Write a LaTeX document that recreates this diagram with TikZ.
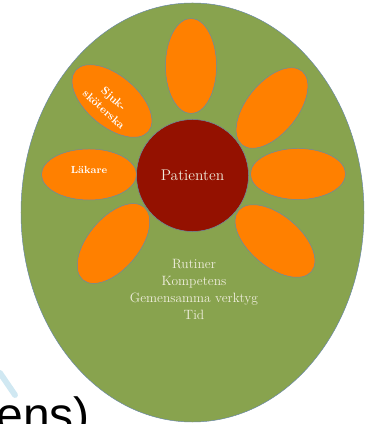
\documentclass[tikz,border=0pt]{standalone}
\usepackage{fontspec}
\newfontfamily\bgsans{Liberation Sans}
\usetikzlibrary{shapes.geometric}
\usetikzlibrary{positioning}
\definecolor{fieldgreen}{RGB}{136,163,78}
\definecolor{petalorange}{RGB}{255,128,0}
\definecolor{coredarkred}{RGB}{148,17,0}
\definecolor{rimblue}{RGB}{105,135,170}
\definecolor{creamtext}{RGB}{240,238,222}
\definecolor{swooshblue}{RGB}{208,232,242}

\begin{document}
\begin{tikzpicture}[x=0.03cm,y=0.03cm,
  petal/.style={ellipse,draw=rimblue,thin,fill=petalorange,minimum width=2.85cm,minimum height=1.53cm,inner sep=0pt},
  rolelabel/.style={font=\bfseries\fontsize{8.8}{10}\selectfont,text=white,align=center}]
\useasboundingbox (0,0) rectangle (366,424);
\clip (0,0) rectangle (366,424);

% background fragments
\draw[swooshblue,line width=5pt,line cap=round] (0,51) -- (15,29);
\node[font=\bgsans\fontsize{41}{41}\selectfont,anchor=base east,inner sep=0pt] (bgword) at (90,-7) {ens)};

% field, core and petals
\node[ellipse,draw=rimblue,thin,fill=fieldgreen,minimum width=10.29cm,minimum height=12.57cm,inner sep=0pt] (field) at (192.5,211.5) {};
\node[circle,draw=rimblue,thin,fill=coredarkred,minimum size=3.36cm,inner sep=0pt,text=creamtext,font=\fontsize{13.2}{15}\selectfont] (patient) at (192.5,248.5) {Patienten};

\node[petal,rotate=90] (ptop) at (191,358) {};
\node[petal,rotate=51] (pupright) at (272,316) {};
\node[petal] (pright) at (298,250) {};
\node[petal,rotate=-40] (plowright) at (275,183) {};
\node[petal,rotate=50] (plowleft) at (113.5,180.5) {};
\node[petal] (doctor) at (89,249.5) {};
\node[petal,rotate=-40] (nurse) at (112,323) {};

\node[rolelabel] (doctortext) at (89,254) {Läkare};
\node[rolelabel,font=\bfseries\fontsize{9.5}{12.5}\selectfont,rotate=-42] (nursetext) at (109,320) {Sjuk-\\sköterska};

\node[text=creamtext,align=center,inner sep=0pt,font=\fontsize{11.5}{14.5}\selectfont] (factors) at (194,135) {Rutiner\\Kompetens\\Gemensamma verktyg\\Tid};

\end{tikzpicture}
\end{document}
